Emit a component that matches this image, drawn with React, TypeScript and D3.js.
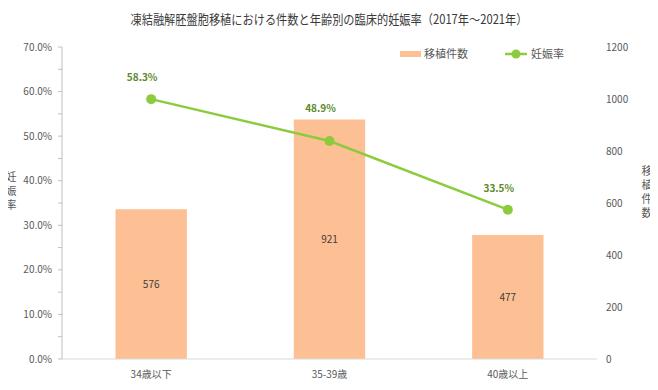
import React, { useRef, useEffect } from 'react';
import { scaleLinear, scaleBand, select, line, range } from 'd3';

const categories = ['34歳以下', '35-39歳', '40歳以上'];
const transfers = [576, 921, 477];
const pregnancyRate = [58.3, 48.9, 33.5];
const leftTicks = [0, 10, 20, 30, 40, 50, 60, 70];
const rightTicks = [0, 200, 400, 600, 800, 1000, 1200];
const titleText = '凍結融解胚盤胞移植における件数と年齢別の臨床的妊娠率（2017年～2021年）';

const W = 658;
const H = 390;
const plot = { left: 62, right: 597, top: 47, bottom: 359 };
const font = '"Noto Sans CJK JP", "Noto Sans", sans-serif';
const barColor = '#FDBF94';
const lineColor = '#8DCB3E';
const textColor = '#595959';

const Chart = () => {
  const ref = useRef<SVGGElement>(null);

  useEffect(() => {
    if (!ref.current) return;
    const g = select(ref.current);
    g.selectAll('*').remove();

    const x = scaleBand<string>().domain(categories).range([plot.left, plot.right]).paddingInner(0.6).paddingOuter(0.3);
    const yL = scaleLinear().domain([0, 70]).range([plot.bottom, plot.top]);
    const yR = scaleLinear().domain([0, 1200]).range([plot.bottom, plot.top]);
    const cx = (c: string) => (x(c) as number) + x.bandwidth() / 2;

    // bars
    g.selectAll('rect.bar').data(categories).join('rect')
      .attr('class', 'bar')
      .attr('x', d => x(d) as number)
      .attr('width', x.bandwidth())
      .attr('y', (d, i) => yR(transfers[i]))
      .attr('height', (d, i) => plot.bottom - yR(transfers[i]))
      .attr('fill', barColor);

    g.selectAll('text.barlabel').data(categories).join('text')
      .attr('class', 'barlabel')
      .attr('x', cx)
      .attr('y', (d, i) => (yR(transfers[i]) + plot.bottom) / 2 + 4)
      .attr('text-anchor', 'middle')
      .attr('font-size', 10)
      .attr('fill', '#404040')
      .text((d, i) => transfers[i]);

    // axes
    g.append('line')
      .attr('x1', plot.left).attr('x2', plot.right)
      .attr('y1', plot.bottom).attr('y2', plot.bottom)
      .attr('stroke', '#d9d9d9');
    g.append('line')
      .attr('x1', plot.left).attr('x2', plot.left)
      .attr('y1', plot.top).attr('y2', plot.bottom)
      .attr('stroke', '#bfbfbf');
    g.selectAll('line.ltick').data(range(0, 71, 5)).join('line')
      .attr('class', 'ltick')
      .attr('x1', plot.left - 4).attr('x2', plot.left)
      .attr('y1', d => yL(d)).attr('y2', d => yL(d))
      .attr('stroke', '#bfbfbf');

    g.selectAll('text.lt').data(leftTicks).join('text')
      .attr('class', 'lt')
      .attr('x', 52).attr('y', d => yL(d) + 3.5)
      .attr('text-anchor', 'end')
      .attr('font-size', 10).attr('fill', textColor)
      .text(d => d.toFixed(1) + '%');

    g.selectAll('text.rt').data(rightTicks).join('text')
      .attr('class', 'rt')
      .attr('x', 606).attr('y', d => yR(d) + 3.5)
      .attr('font-size', 10).attr('fill', textColor)
      .text(d => d);

    g.selectAll('text.cat').data(categories).join('text')
      .attr('class', 'cat')
      .attr('x', cx).attr('y', 378)
      .attr('text-anchor', 'middle')
      .attr('font-size', 10).attr('fill', textColor)
      .text(d => d);

    // rate line
    const pts = categories.map((c, i) => [cx(c), yL(pregnancyRate[i])] as [number, number]);
    g.append('path')
      .attr('d', line()(pts))
      .attr('fill', 'none')
      .attr('stroke', lineColor)
      .attr('stroke-width', 2.5);
    g.selectAll('circle.pt').data(pts).join('circle')
      .attr('class', 'pt')
      .attr('cx', d => d[0]).attr('cy', d => d[1])
      .attr('r', 5).attr('fill', lineColor);
    // labels sit above the point, and above the bar top if the point is inside the bar
    g.selectAll('text.rate').data(pts).join('text')
      .attr('class', 'rate')
      .attr('x', d => d[0] - 9)
      .attr('y', (d, i) => Math.min(d[1] - 18, yR(transfers[i]) - 8))
      .attr('text-anchor', 'middle')
      .attr('font-size', 10).attr('font-weight', 'bold')
      .attr('fill', '#5A8A2A')
      .text((d, i) => pregnancyRate[i].toFixed(1) + '%');
  }, []);

  // stacked (one char per line) axis title
  const vertical = (s: string, xPos: number, yTop: number, step: number) => (
    <text x={xPos} y={yTop} textAnchor="middle" fontSize={11} fill={textColor}>
      {s.split('').map((ch, i) => (
        <tspan key={i} x={xPos} dy={i === 0 ? 0 : step}>{ch}</tspan>
      ))}
    </text>
  );

  return (
    <svg width={W} height={H} style={{ display: 'block', fontFamily: font }}>
      <rect width={W} height={H} fill="#fff" />
      <text x={329} y={24} textAnchor="middle" fontSize={13} fill="#3a3a3a"
        textLength={397} lengthAdjust="spacingAndGlyphs">{titleText}</text>
      {vertical('妊娠率', 11, 181, 14)}
      {vertical('移植件数', 647, 175, 14)}
      <g>
        <rect x={400} y={51} width={21} height={6} fill={barColor} />
        <text x={424} y={58} fontSize={11} fill={textColor}>移植件数</text>
        <line x1={505} x2={527} y1={54} y2={54} stroke={lineColor} strokeWidth={2.5} />
        <circle cx={516} cy={54} r={4.5} fill={lineColor} />
        <text x={531} y={58} fontSize={11} fill={textColor}>妊娠率</text>
      </g>
      <g ref={ref} />
    </svg>
  );
};

export default function App() {
  return (
    <div style={{ margin: -8 }}>
      <Chart />
    </div>
  );
}
